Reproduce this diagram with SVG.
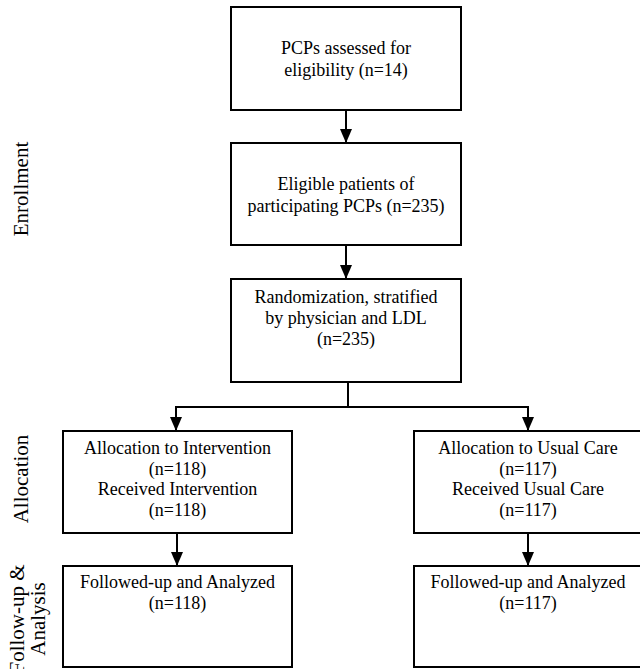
<svg xmlns="http://www.w3.org/2000/svg" width="640" height="669" viewBox="0 0 640 669">
<style>
.box{fill:#fff;stroke:#000;stroke-width:2}
.t{font-family:"Liberation Serif","Times New Roman",serif;font-size:18px;fill:#000;text-anchor:middle}
.lab{font-family:"Liberation Serif","Times New Roman",serif;font-size:21px;fill:#000;text-anchor:middle}
.c{fill:none;stroke:#000;stroke-width:2}
</style>
<defs>
<marker id="ah" markerUnits="userSpaceOnUse" markerWidth="14" markerHeight="12" refX="14" refY="6" orient="auto" viewBox="0 0 14 12">
<path d="M0,0 L14,6 L0,12 Z" fill="#000"/>
</marker>
</defs>
<rect width="640" height="669" fill="#fff"/>
<g id="labels">
<text class="lab" transform="translate(28,189) rotate(-90)">Enrollment</text>
<text class="lab" transform="translate(28,479) rotate(-90)">Allocation</text>
<text class="lab" transform="translate(24,619) rotate(-90)">Follow-up &amp;</text>
<text class="lab" transform="translate(45,619) rotate(-90)">Analysis</text>
</g>
<g id="connectors">
<line class="c" x1="346" y1="110" x2="346" y2="143" marker-end="url(#ah)"/>
<line class="c" x1="346" y1="245" x2="346" y2="279" marker-end="url(#ah)"/>
<polyline class="c" points="348,382 348,407"/>
<polyline class="c" points="175,407 529,407"/>
<line class="c" x1="176" y1="406" x2="176" y2="431" marker-end="url(#ah)"/>
<line class="c" x1="528" y1="406" x2="528" y2="431" marker-end="url(#ah)"/>
<line class="c" x1="177" y1="533" x2="177" y2="566" marker-end="url(#ah)"/>
<line class="c" x1="528" y1="533" x2="528" y2="566" marker-end="url(#ah)"/>
</g>
<g id="pcps">
<rect class="box" x="231" y="7" width="230" height="103"/>
<text class="t" x="346" y="54">PCPs assessed for</text>
<text class="t" x="346" y="76">eligibility (n=14)</text>
</g>
<g id="eligible">
<rect class="box" x="231" y="143" width="230" height="102"/>
<text class="t" x="346" y="190">Eligible patients of</text>
<text class="t" x="346" y="212">participating PCPs (n=235)</text>
</g>
<g id="randomization">
<rect class="box" x="231" y="279" width="230" height="103"/>
<text class="t" x="346" y="303">Randomization, stratified</text>
<text class="t" x="346" y="324">by physician and LDL</text>
<text class="t" x="346" y="345">(n=235)</text>
</g>
<g id="alloc-intervention">
<rect class="box" x="63" y="431" width="229" height="102"/>
<text class="t" x="177.5" y="454">Allocation to Intervention</text>
<text class="t" x="177.5" y="475">(n=118)</text>
<text class="t" x="177.5" y="495">Received Intervention</text>
<text class="t" x="177.5" y="516">(n=118)</text>
</g>
<g id="alloc-usual">
<rect class="box" x="414" y="431" width="230" height="102"/>
<text class="t" x="528" y="454">Allocation to Usual Care</text>
<text class="t" x="528" y="475">(n=117)</text>
<text class="t" x="528" y="495">Received Usual Care</text>
<text class="t" x="528" y="516">(n=117)</text>
</g>
<g id="follow-intervention">
<rect class="box" x="63" y="566" width="229" height="101"/>
<text class="t" x="177.5" y="588">Followed-up and Analyzed</text>
<text class="t" x="177.5" y="609">(n=118)</text>
</g>
<g id="follow-usual">
<rect class="box" x="414" y="566" width="230" height="101"/>
<text class="t" x="528" y="588">Followed-up and Analyzed</text>
<text class="t" x="528" y="609">(n=117)</text>
</g>
</svg>
